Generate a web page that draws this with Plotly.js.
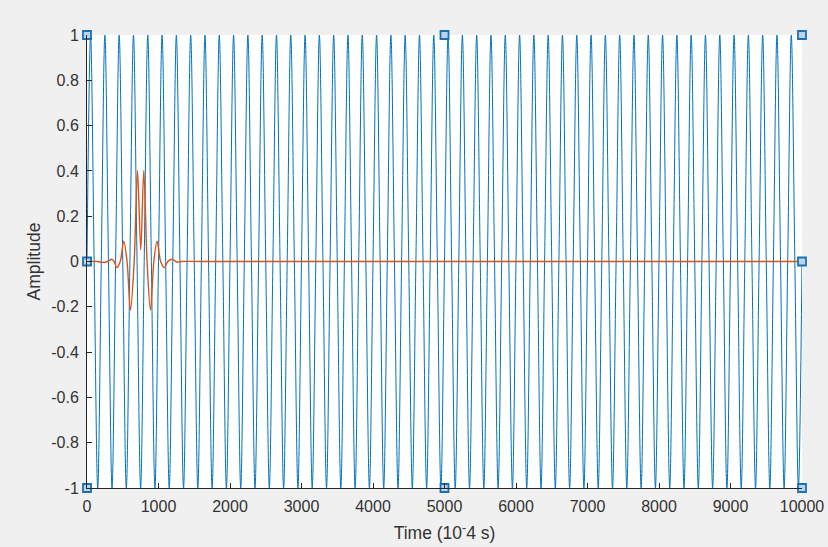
<!DOCTYPE html>
<html>
<head>
<meta charset="utf-8">
<script src="https://cdn.plot.ly/plotly-3.0.1.min.js"></script>
<style>html,body{margin:0;padding:0;background:#f0f0f0;}#chart{width:828px;height:547px;}</style>
</head>
<body>
<div id="chart"></div>
<script>
// Blue signal: samples every 50 time units starting at 0
const blueX0 = 0;
const blueDx = 50;
const blueY = [
0,1,0,-1, 0,1,0,-1, 0,1,0,-1, 0,1,0,-1, 0,1,0,-1,
0,1,0,-1, 0,1,0,-1, 0,1,0,-1, 0,1,0,-1, 0,1,0,-1,
0,1,0,-1, 0,1,0,-1, 0,1,0,-1, 0,1,0,-1, 0,1,0,-1,
0,1,0,-1, 0,1,0,-1, 0,1,0,-1, 0,1,0,-1, 0,1,0,-1,
0,1,0,-1, 0,1,0,-1, 0,1,0,-1, 0,1,0,-1, 0,1,0,-1,
0,1,0,-1, 0,1,0,-1, 0,1,0,-1, 0,1,0,-1, 0,1,0,-1,
0,1,0,-1, 0,1,0,-1, 0,1,0,-1, 0,1,0,-1, 0,1,0,-1,
0,1,0,-1, 0,1,0,-1, 0,1,0,-1, 0,1,0,-1, 0,1,0,-1,
0,1,0,-1, 0,1,0,-1, 0,1,0,-1, 0,1,0,-1, 0,1,0,-1,
0,1,0,-1, 0,1,0,-1, 0,1,0,-1, 0,1,0,-1, 0,1,0,-1,
0
];

// Orange wavelet
const waveX = [0, 150, 224, 290, 345, 380, 416, 465, 514, 560, 608, 660, 706, 752, 794, 840, 888, 935, 980, 1030, 1082, 1130, 1190, 1240, 1270, 1320, 1600, 10000];
const waveY = [0, 0, -0.004, 0, 0.01, 0, -0.027, 0, 0.09, 0, -0.215, 0, 0.402, 0.052, 0.402, 0, -0.215, 0, 0.09, 0, -0.027, 0, 0.01, 0, -0.003, 0, 0, 0];

// Selection handles
const handleX = [0, 0, 0, 5000, 5000, 10000, 10000, 10000];
const handleY = [1, 0, -1, 1, -1, 1, 0, -1];

// Axis ticks
const xTicks = [0,1000,2000,3000,4000,5000,6000,7000,8000,9000,10000];
const xTickText = ['0','1000','2000','3000','4000','5000','6000','7000','8000','9000','10000'];
const yTicks = [-1,-0.8,-0.6,-0.4,-0.2,0,0.2,0.4,0.6,0.8,1];
const yTickText = ['-1','-0.8','-0.6','-0.4','-0.2','0','0.2','0.4','0.6','0.8','1'];

const traces = [
  {x0: blueX0, dx: blueDx, y: blueY, type: 'scatter', mode: 'lines',
   line: {color: '#0072BD', width: 1, shape: 'spline', smoothing: 1}, hoverinfo: 'skip', cliponaxis: true},
  {x: waveX, y: waveY, type: 'scatter', mode: 'lines',
   line: {color: '#D95319', width: 1.4, shape: 'spline', smoothing: 0.9}, hoverinfo: 'skip'},
  {x: handleX, y: handleY, type: 'scatter', mode: 'markers', cliponaxis: false,
   marker: {symbol: 'square', size: 8, color: '#b7d6ee', line: {color: '#1f6fae', width: 1.8}}, hoverinfo: 'skip'}
];

const tickFont = {family: 'Liberation Sans, Arial, sans-serif', size: 16, color: '#333333'};
const titleFont = {family: 'Liberation Sans, Arial, sans-serif', size: 17.5, color: '#333333'};
const layout = {
  width: 828, height: 547,
  paper_bgcolor: '#f0f0f0', plot_bgcolor: '#ffffff',
  margin: {l: 87, r: 26, t: 35, b: 59},
  showlegend: false,
  xaxis: {range: [0, 10000], tickvals: xTicks, ticktext: xTickText, ticks: 'inside', ticklen: 5,
          tickcolor: '#262626', showline: true, linecolor: '#262626', linewidth: 1, mirror: false,
          showgrid: false, zeroline: false, tickfont: tickFont, ticklabelstandoff: 4,
          title: {text: 'Time (10<sup>-</sup>4 s)', font: titleFont, standoff: 12}},
  yaxis: {range: [-1, 1], tickvals: yTicks, ticktext: yTickText, ticks: 'inside', ticklen: 5,
          tickcolor: '#262626', showline: true, linecolor: '#262626', linewidth: 1, mirror: false,
          showgrid: false, zeroline: false, tickfont: tickFont, ticklabelstandoff: 4,
          title: {text: 'Amplitude', font: titleFont, standoff: 6}}
};

Plotly.newPlot('chart', traces, layout, {displayModeBar: false, staticPlot: true});
</script>
</body>
</html>
